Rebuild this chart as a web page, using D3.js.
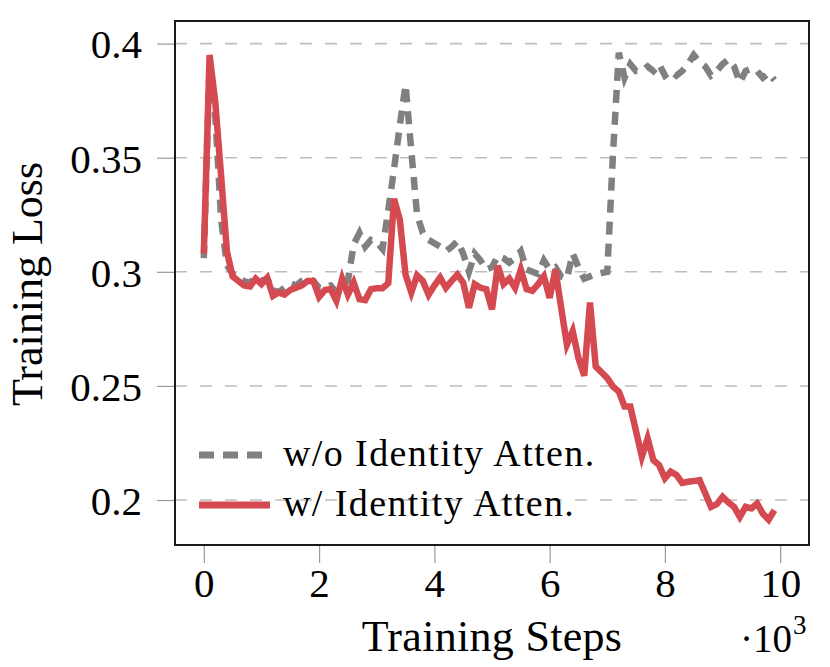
<!DOCTYPE html>
<html>
<head>
<meta charset="utf-8">
<script src="https://cdn.jsdelivr.net/npm/d3@7"></script>
<style>
  html, body { margin: 0; padding: 0; background: #fff; }
  text { font-family: "Liberation Serif", "Times New Roman", serif; fill: #000; }
</style>
</head>
<body>
<div id="chart"></div>
<script>
// Training loss with / without identity attention

// training steps, one point every 100 steps
var steps = [
	0, 100, 200, 300, 400, 500, 600, 700, 800, 900,
	1000, 1100, 1200, 1300, 1400, 1500, 1600, 1700, 1800, 1900,
	2000, 2100, 2200, 2300, 2400, 2500, 2600, 2700, 2800, 2900,
	3000, 3100, 3200, 3300, 3400, 3500, 3600, 3700, 3800, 3900,
	4000, 4100, 4200, 4300, 4400, 4500, 4600, 4700, 4800, 4900,
	5000, 5100, 5200, 5300, 5400, 5500, 5600, 5700, 5800, 5900,
	6000, 6100, 6200, 6300, 6400, 6500, 6600, 6700, 6800, 6900,
	7000, 7100, 7200, 7300, 7400, 7500, 7600, 7700, 7800, 7900,
	8000, 8100, 8200, 8300, 8400, 8500, 8600, 8700, 8800, 8900,
	9000, 9100, 9200, 9300, 9400, 9500, 9600, 9700, 9800, 9900
];

// w/o Identity Atten. (gray, dashed)
var lossWithout = [
	0.306, 0.391, 0.368, 0.323, 0.303, 0.299, 0.297, 0.296, 0.295, 0.298,
	0.296, 0.297, 0.292, 0.291, 0.293, 0.295, 0.294, 0.296, 0.297, 0.296,
	0.293, 0.293, 0.294, 0.291, 0.294, 0.296, 0.312, 0.317, 0.311, 0.314,
	0.313, 0.310, 0.327, 0.345, 0.364, 0.382, 0.353, 0.325, 0.317, 0.314,
	0.3125, 0.311, 0.309, 0.311, 0.3135, 0.308, 0.300, 0.308, 0.305, 0.301,
	0.302, 0.307, 0.306, 0.304, 0.306, 0.309, 0.301, 0.300, 0.299, 0.305,
	0.301, 0.302, 0.298, 0.297, 0.308, 0.302, 0.297, 0.298, 0.299, 0.2995,
	0.300, 0.352, 0.396, 0.385, 0.391, 0.388, 0.388, 0.390, 0.388, 0.391,
	0.386, 0.388, 0.386, 0.388, 0.391, 0.395, 0.392, 0.390, 0.386, 0.388,
	0.391, 0.393, 0.390, 0.383, 0.388, 0.389, 0.388, 0.385, 0.387, 0.384
];

// w/ Identity Atten. (red, solid)
var lossWith = [
	0.308, 0.395, 0.374, 0.342, 0.309, 0.298, 0.296, 0.294, 0.2936, 0.297,
	0.2946, 0.2974, 0.2895, 0.291, 0.290, 0.292, 0.293, 0.294, 0.296, 0.296,
	0.289, 0.292, 0.2924, 0.2873, 0.297, 0.290, 0.2953, 0.288, 0.2876, 0.2924,
	0.2928, 0.2928, 0.295, 0.332, 0.323, 0.2988, 0.291, 0.2984, 0.296, 0.290,
	0.294, 0.2975, 0.293, 0.296, 0.2988, 0.2953, 0.2843, 0.2946, 0.293, 0.2924,
	0.2836, 0.3027, 0.2946, 0.297, 0.293, 0.301, 0.2924, 0.2917, 0.2946, 0.298,
	0.2886, 0.301, 0.2843, 0.2681, 0.274, 0.2622, 0.2545, 0.2865, 0.2585, 0.256,
	0.2534, 0.2497, 0.2475, 0.241, 0.241, 0.230, 0.219, 0.227, 0.2175, 0.2153,
	0.2095, 0.2124, 0.211, 0.2075, 0.208, 0.2083, 0.2087, 0.203, 0.197, 0.1982,
	0.2014, 0.199, 0.197, 0.1926, 0.197, 0.1963, 0.1985, 0.194, 0.1914, 0.1955
];

var xTicks = [0, 2000, 4000, 6000, 8000, 10000];
var xTickLabels = ["0", "2", "4", "6", "8", "10"];
var yTicks = [0.2, 0.25, 0.3, 0.35, 0.4];
var yTickLabels = ["0.2", "0.25", "0.3", "0.35", "0.4"];

var seriesNames = ["w/o Identity Atten.", "w/ Identity Atten."];

function loss_chart(div_id) {
	var width = 830, height = 667;
	var plot = {left: 175, right: 809, top: 21, bottom: 545};

	var x = d3.scaleLinear()
		.domain([-500, 10500])
		.range([plot.left, plot.right]);
	var y = d3.scaleLinear()
		.domain([0.1803, 0.4099])
		.range([plot.bottom, plot.top]);

	var svg = d3.select('#' + div_id).append("svg")
		.attr("width", width)
		.attr("height", height);

	// horizontal dashed grid
	svg.append("g")
		.selectAll("line")
		.data(yTicks)
		.enter().append("line")
		  .attr("x1", plot.left)
		  .attr("x2", plot.right)
		  .attr("y1", function(d) { return y(d); })
		  .attr("y2", function(d) { return y(d); })
		  .attr("stroke", "#bdbdbd")
		  .attr("stroke-width", 1.6)
		  .attr("stroke-dasharray", "12,13");

	// y axis ticks (outside, gray)
	var yAxis = svg.append("g")
		.attr("transform", "translate(" + plot.left + ",0)")
		.call(d3.axisLeft(y)
			.tickValues(yTicks)
			.tickSize(18)
			.tickPadding(15)
			.tickFormat(function(d, i) { return yTickLabels[i]; }));
	yAxis.select(".domain").remove();
	yAxis.selectAll(".tick line").attr("stroke", "#999").attr("stroke-width", 1.2);
	yAxis.selectAll(".tick text")
		.attr("font-size", 41)
		.attr("font-family", null)
		.attr("dy", "0.35em");

	// x axis ticks (outside, gray)
	var xAxis = svg.append("g")
		.attr("transform", "translate(0," + plot.bottom + ")")
		.call(d3.axisBottom(x)
			.tickValues(xTicks)
			.tickSize(18)
			.tickPadding(34)
			.tickFormat(function(d, i) { return xTickLabels[i]; }));
	xAxis.select(".domain").remove();
	xAxis.selectAll(".tick line").attr("stroke", "#999").attr("stroke-width", 1.2);
	xAxis.selectAll(".tick text")
		.attr("font-size", 41)
		.attr("font-family", null)
		.attr("dy", "0");

	var line = function(values) {
		return d3.line()
			.x(function(d, i) { return x(steps[i]); })
			.y(function(d) { return y(d); })(values);
	};

	// w/o identity attention
	svg.append("path")
		.attr("d", line(lossWithout))
		.attr("fill", "none")
		.attr("stroke", "#808080")
		.attr("stroke-width", 6.5)
		.attr("stroke-linejoin", "miter")
		.attr("stroke-dasharray", "13,9");

	// w/ identity attention
	svg.append("path")
		.attr("d", line(lossWith))
		.attr("fill", "none")
		.attr("stroke", "#d54a50")
		.attr("stroke-width", 6.5)
		.attr("stroke-linejoin", "miter");

	// frame
	svg.append("rect")
		.attr("x", plot.left)
		.attr("y", plot.top)
		.attr("width", plot.right - plot.left)
		.attr("height", plot.bottom - plot.top)
		.attr("fill", "none")
		.attr("stroke", "#1a1a1a")
		.attr("stroke-width", 2);

	// legend (no box)
	var legend = svg.append("g");
	var rows = [
		{name: seriesNames[0], color: "#808080", dash: "15,9", len: 63},
		{name: seriesNames[1], color: "#d54a50", dash: null, len: 71}
	];
	rows.forEach(function(r, i) {
		var cy = 455 + i * 50;
		legend.append("line")
			.attr("x1", 199).attr("x2", 199 + r.len)
			.attr("y1", cy).attr("y2", cy)
			.attr("stroke", r.color)
			.attr("stroke-width", 7)
			.attr("stroke-dasharray", r.dash);
		legend.append("text")
			.attr("x", 283)
			.attr("y", cy + 11)
			.attr("font-size", 38)
			.attr("letter-spacing", 1.4)
			.text(r.name);
	});

	// axis labels
	svg.append("text")
		.attr("x", (plot.left + plot.right) / 2)
		.attr("y", 651)
		.attr("text-anchor", "middle")
		.attr("font-size", 44)
		.attr("letter-spacing", 0.3)
		.text("Training Steps");

	svg.append("text")
		.attr("transform", "translate(42," + ((plot.top + plot.bottom) / 2 + 1) + ") rotate(-90)")
		.attr("text-anchor", "middle")
		.attr("font-size", 44)
		.text("Training Loss");

	// x scale multiplier
	svg.append("text")
		.attr("x", 792)
		.attr("y", 652)
		.attr("text-anchor", "end")
		.attr("font-size", 39)
		.text("\u00b710");
	svg.append("text")
		.attr("x", 793)
		.attr("y", 634)
		.attr("font-size", 27)
		.text("3");
} // loss_chart

loss_chart("chart");
</script>
</body>
</html>
